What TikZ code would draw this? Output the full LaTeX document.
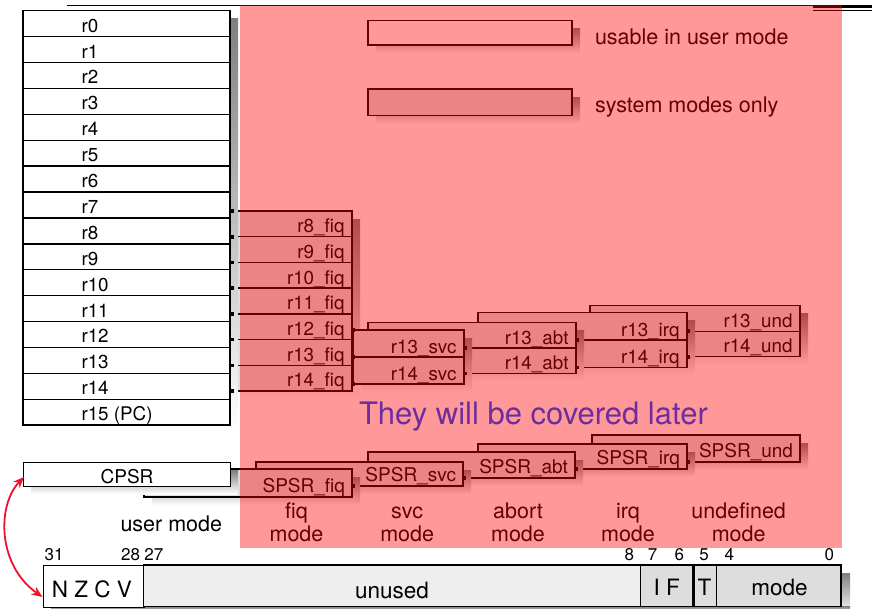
\documentclass[tikz,border=0pt]{standalone}
\usepackage{fontspec}
\setmainfont{TeX Gyre Heros}
\usetikzlibrary{arrows.meta}

\definecolor{shade}{RGB}{190,190,190}
\definecolor{sysfill}{RGB}{222,222,222}
\definecolor{unusedfill}{RGB}{238,238,238}
\definecolor{bitfill}{RGB}{221,221,221}
\definecolor{later}{RGB}{108,46,156}
\definecolor{arrowred}{RGB}{236,18,48}

\newcommand\fsz[1]{\fontsize{#1}{#1}\selectfont}

\tikzset{
  outline/.style={draw=black, line width=1.4pt},
  userbox/.style={outline, fill=white},
  sysbox/.style={outline, fill=sysfill},
  txt/.style={inner sep=0pt, outer sep=0pt},
  reglabel/.style={txt, font=\fsz{18.8}},
  psrlabel/.style={txt, font=\fsz{19}},
  modelabel/.style={txt, font=\fsz{21.5}},
  barlabel/.style={txt, font=\fsz{22.5}},
  bitnum/.style={txt, font=\fsz{17}},
}

% banked register group: #1 left, #2 right, #3 top, #4 row height,
% #5 number of rows, #6 node prefix, #7 labels
\newcommand\bankbox[7]{%
  \fill[shade] ({#1+8},{#3+8}) rectangle ({#2+8},{#3+#5*#4+8});
  \foreach \lbl [count=\k from 0] in {#7} {
    \draw[sysbox] (#1,{#3+\k*#4}) rectangle (#2,{#3+(\k+1)*#4});
    \node[reglabel, anchor=base east] (#6\k) at ({#2-7.5},{#3+(\k+1)*#4-4}) {\lbl};
  }
}
% single saved-status register: #1 left, #2 right, #3 top, #4 bottom, #5 name, #6 label
\newcommand\psrbox[6]{%
  \fill[shade] ({#1+8},{#3+8}) rectangle ({#2+8},{#4+8});
  \draw[sysbox] (#1,#3) rectangle (#2,#4);
  \node[psrlabel, anchor=base east] (#5) at ({#2-7},{#4-4.5}) {#6};
}
% small junction mark where a banked line leaves a box edge
\newcommand\joint[2]{\fill ({#1-1.5},{#2-1.8}) rectangle ({#1+2.5},{#2+1.8});}

\begin{document}
\begin{tikzpicture}[x=1pt, y=-1pt]
\useasboundingbox (0,0) rectangle (872,608);

% rule across the top
\draw[line width=1.5pt] (67,5.3) -- (813,5.3);
\draw[line width=3pt] (813,6.6) -- (872,6.6);
\draw[line width=1pt] (813,10.2) -- (872,10.2);

% banked r13/r14 and fiq registers, back to front
\bankbox{590}{800}{305.7}{25.5}{2}{und}{r13\_und,r14\_und}
\bankbox{478}{687}{312.7}{27.3}{2}{irq}{r13\_irq,r14\_irq}
\bankbox{368}{576}{322.7}{25.3}{2}{abt}{r13\_abt,r14\_abt}
\bankbox{231}{352}{211}{25.71}{7}{fiq}{r8\_fiq,r9\_fiq,r10\_fiq,r11\_fiq,r12\_fiq,r13\_fiq,r14\_fiq}
\bankbox{353}{464}{330}{27}{2}{svc}{r13\_svc,r14\_svc}

% user-mode register file
\fill[shade] (31,18.7) rectangle (238,433.1);
\foreach \lbl [count=\k from 0] in {r0,r1,r2,r3,r4,r5,r6,r7,r8,r9,r10,r11,r12,r13,r14,{r15 (PC)}} {
  \draw[userbox] (23,{10.7+\k*25.9}) rectangle (230,{10.7+(\k+1)*25.9});
  \node[reglabel, anchor=base west] (reg\k) at (81.5,{10.7+(\k+1)*25.9-4.5}) {\lbl};
}

% junctions of the banked registers
\foreach \y in {211,236.7,262.4,288.1,313.9,339.6,365.3,391} {\joint{231}{\y}}
\foreach \y in {330,357,384} {\joint{352.5}{\y}}
\foreach \y in {348,373.3} {\joint{464}{\y}}
\foreach \y in {340,367.3} {\joint{576}{\y}}
\foreach \y in {331.2,356.7} {\joint{687}{\y}}

% saved program status registers, back to front
\psrbox{592}{800}{435}{462}{spsrund}{SPSR\_und}
\psrbox{478}{687}{444}{469}{spsrirq}{SPSR\_irq}
\psrbox{368}{575}{452}{478}{spsrabt}{SPSR\_abt}
\psrbox{256}{463}{462}{486}{spsrsvc}{SPSR\_svc}
\psrbox{144}{352}{469}{497}{spsrfiq}{SPSR\_fiq}
\joint{352}{486}
\joint{463}{478}
\joint{575}{469}
\joint{687}{462}

% current program status register
\fill[shade] (31,470) rectangle (238,494);
\node[userbox, anchor=north west, minimum width=207pt, minimum height=24pt, inner sep=0pt] (cpsr) at (23,462) {};
\node[psrlabel, anchor=base] (cpsrtext) at (127,483) {CPSR};

% key
\fill[shade] (376,28.7) rectangle (580,53);
\draw[userbox] (368,20.7) rectangle (572,45);
\node[modelabel, anchor=base west] (keyuser) at (595,44.3) {usable in user mode};
\fill[shade] (376,97) rectangle (580,123.7);
\draw[sysbox] (368,89) rectangle (572,115.7);
\node[modelabel, anchor=base west] (keysys) at (595,112.5) {system modes only};

% mode names
\node[modelabel, anchor=base] (usermode) at (171.3,531) {user mode};
\foreach \nm/\x/\first in {fiq/296.5/fiq, svc/407.2/svc, abt/518/abort, irq/628/irq, und/738.7/undefined} {
  \node[modelabel, anchor=base] (\nm a) at (\x,518) {\first};
  \node[modelabel, anchor=base] (\nm b) at (\x,541.7) {mode};
}

% bit numbers of the status register
\foreach \b/\x in {31/54, 28/130.5, 27/153.8, 8/629.3, 7/652.7, 6/679.3, 5/704, 4/729.3, 0/829.3} {
  \node[bitnum, anchor=base] (bit\b) at (\x,560.7) {\b};
}

% status register format
\fill[shade] (841,573) rectangle (850,616);
\fill[shade] (51,606) rectangle (850,616);
\node[userbox, anchor=north west, minimum width=100.6pt, minimum height=41.7pt, inner sep=0pt] (nzcv) at (42.7,565) {};
\draw[outline, fill=unusedfill] (143.3,565) rectangle (640.7,606.7);
\draw[outline, fill=bitfill] (640.7,565) rectangle (692.5,606.7);
\draw[outline, fill=bitfill] (694,565) rectangle (716.7,606.7);
\draw[outline, fill=bitfill] (716.7,565) rectangle (841,606.7);
\node[barlabel, anchor=base] (flags) at (92,597.3) {N Z C V};
\node[barlabel, anchor=base] (unused) at (392,598) {unused};
\node[barlabel, anchor=base] (ifbits) at (666.7,595) {I F};
\node[barlabel, anchor=base] (tbit) at (704.5,595) {T};
\node[barlabel, anchor=base] (modebits) at (779.5,595) {mode};

% translucent highlight over the privileged modes
\fill[red, opacity=0.4] (240,4.5) rectangle (841.7,548.3);

\node[txt, font=\fsz{31}, text=later, anchor=base west] (note) at (359,424.3) {They will be covered later};

% CPSR bits correspond to the format below
\coordinate (arrA) at (24,477);
\coordinate (arrB) at (42.5,597);
\draw[arrowred, line width=1.8pt, {Stealth[length=11pt,width=9pt]}-{Stealth[length=11pt,width=9pt]}]
  (arrA) .. controls (-3,505) and (-3,565) .. (arrB);
\end{tikzpicture}
\end{document}
